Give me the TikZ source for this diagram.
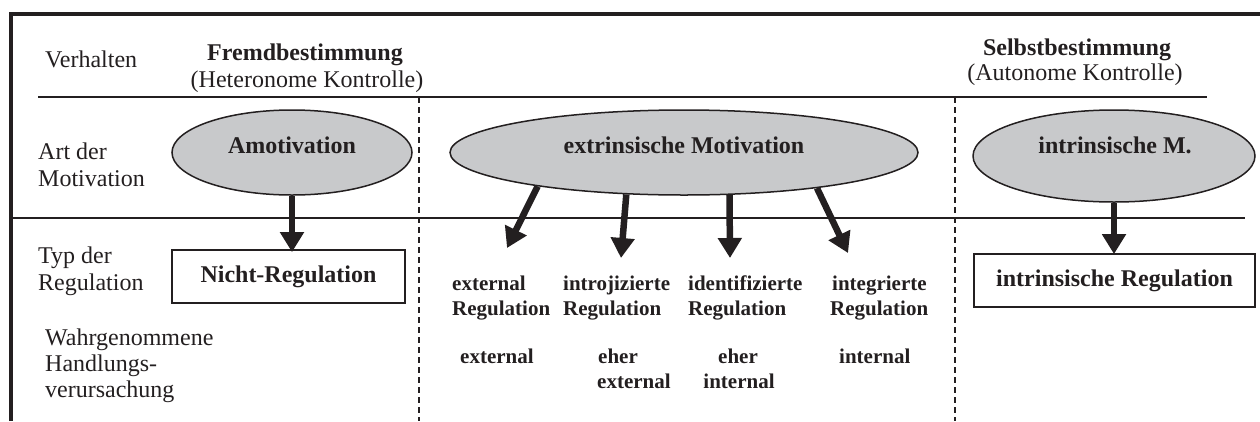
\documentclass[tikz,border=0pt]{standalone}
\usepackage{fontspec}
\setmainfont{Liberation Serif}
\usetikzlibrary{shapes.geometric,arrows.meta}
\definecolor{ink}{RGB}{35,31,32}
\definecolor{ellfill}{RGB}{200,201,203}
\begin{document}
\begin{tikzpicture}[x=1pt,y=-1pt,
  rowlabel/.style={anchor=base west,inner sep=0pt,font=\fontsize{24}{26}\selectfont,text=ink},
  head/.style={anchor=base,inner sep=0pt,font=\fontsize{24}{26}\selectfont\bfseries,text=ink},
  subhead/.style={anchor=base,inner sep=0pt,font=\fontsize{24}{26}\selectfont,text=ink},
  motiv/.style={ellipse,draw=ink,line width=1.5pt,fill=ellfill,inner sep=0pt},
  motivtext/.style={anchor=base,inner sep=0pt,font=\fontsize{24}{26}\selectfont\bfseries,text=ink},
  regbox/.style={draw=ink,line width=1.8pt,inner sep=0pt,font=\fontsize{24}{26}\selectfont\bfseries,text=ink},
  coltext/.style={anchor=base west,inner sep=0pt,font=\fontsize{21}{25}\selectfont\bfseries,text=ink},
  colmid/.style={anchor=base,inner sep=0pt,font=\fontsize{21}{25}\selectfont\bfseries,text=ink},
  rule/.style={draw=ink,line width=1.2pt},
  divider/.style={draw=ink,line width=1.3pt,dash pattern=on 6pt off 4pt},
  frame/.style={draw=ink,line width=4pt,line join=miter},
  flow/.style={draw=ink,line width=6.5pt,-{Triangle[width=23pt,length=20pt]}}
]
\useasboundingbox (0,0) rectangle (1260,421);

% outer frame (top and left edge)
\draw[frame] (10.5,421) -- (10.5,13.5) -- (1260,13.5);

% row separators and column dividers
\draw[rule] (38,97) -- (1207,97);
\draw[rule] (10.5,218) -- (1245,218);
\draw[divider] (419,97) -- (419,421);
\draw[divider] (955,97) -- (955,421);

% row labels
\node[rowlabel] (verh) at (45,67) {Verhalten};
\node[rowlabel] (art1) at (38,159) {Art der};
\node[rowlabel] (art2) at (38,186) {Motivation};
\node[rowlabel] (typ1) at (38,263) {Typ der};
\node[rowlabel] (typ2) at (38,290) {Regulation};
\node[rowlabel] (wahr1) at (45,345) {Wahrgenommene};
\node[rowlabel] (wahr2) at (45,371) {Handlungs-};
\node[rowlabel] (wahr3) at (45,397) {verursachung};

% column headings
\node[head] (fremd) at (305,60) {Fremdbestimmung};
\node[subhead] (hetero) at (307,87) {(Heteronome Kontrolle)};
\node[head] (selbst) at (1077,55) {Selbstbestimmung};
\node[subhead] (auto) at (1075,80) {(Autonome Kontrolle)};

% kinds of motivation
\node[motiv,minimum width=240pt,minimum height=85pt] (amot) at (292,152.5) {};
\node[motiv,minimum width=468pt,minimum height=85pt] (extr) at (684,152.5) {};
\node[motiv,minimum width=282pt,minimum height=92pt] (intr) at (1114,156) {};
\node[motivtext] (amotT) at (292,153) {Amotivation};
\node[motivtext] (extrT) at (684,153) {extrinsische Motivation};
\node[motivtext] (intrT) at (1115,153) {intrinsische M.};

% types of regulation
\node[regbox,minimum width=233pt,minimum height=53pt] (nreg) at (288.5,276.5) {Nicht-Regulation};
\node[regbox,minimum width=281pt,minimum height=53pt] (ireg) at (1114.5,280.5) {intrinsische Regulation};

\node[coltext] (c1a) at (452,290) {external};
\node[coltext] (c1b) at (452,315) {Regulation};
\node[coltext] (c2a) at (563,290) {introjizierte};
\node[coltext] (c2b) at (563,315) {Regulation};
\node[coltext] (c3a) at (688,290) {identifizierte};
\node[coltext] (c3b) at (688,315) {Regulation};
\node[coltext] (c4a) at (832,290) {integrierte};
\node[coltext] (c4b) at (830,315) {Regulation};

% perceived locus of causality
\node[coltext] (l1) at (460,363) {external};
\node[coltext] (l2a) at (598,363) {eher};
\node[coltext] (l2b) at (597,388) {external};
\node[colmid] (l3a) at (738,363) {eher};
\node[colmid] (l3b) at (739,388) {internal};
\node[coltext] (l4) at (839,363) {internal};

% arrows
\coordinate (t1) at (507,248);
\coordinate (t2) at (621,258);
\coordinate (t3) at (730,258);
\coordinate (t4) at (848,253);
\draw[flow,shorten >=-3pt] (amot.south) -- (amot.south |- nreg.north);
\draw[flow] (extr.193.6) -- (t1);
\draw[flow] (extr.216.7) -- (t2);
\draw[flow] (extr.317.5) -- (t3);
\draw[flow] (extr.345.3) -- (t4);
\draw[flow,shorten >=-1pt] (intr.south) -- (intr.south |- ireg.north);
\end{tikzpicture}
\end{document}
